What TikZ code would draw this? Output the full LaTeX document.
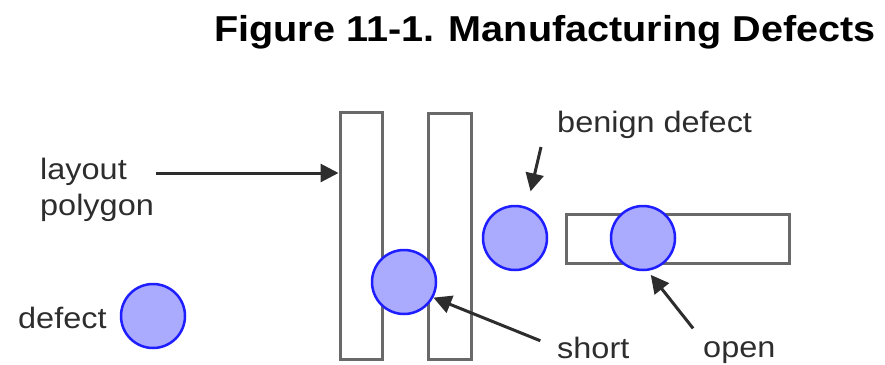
\documentclass[tikz,border=0pt]{standalone}
\usepackage{fontspec}
\setmainfont{Liberation Sans}[FakeStretch=1.1]
\usetikzlibrary{arrows.meta}
\definecolor{defectfill}{RGB}{170,170,255}
\definecolor{defectline}{RGB}{30,30,255}
\definecolor{polyline}{RGB}{105,105,105}
\definecolor{labeltext}{RGB}{45,45,45}
\tikzset{
	heading/.style={font=\fontsize{36}{40}\selectfont\bfseries, inner sep=0pt},
	lbl/.style={font=\fontsize{29.5}{36}\selectfont, text=labeltext, inner sep=0pt},
	polygon/.style={draw=polyline, line width=3pt, inner sep=0pt},
	defect/.style={circle, draw=defectline, fill=defectfill, line width=2.5pt, minimum size=64pt, inner sep=0pt},
	pointer/.style={draw=labeltext, line width=3pt, -{Triangle[length=18pt,width=18pt]}},
}

\begin{document}
\begin{tikzpicture}[x=1pt, y=-1pt]
			%%%%% START %%%%%
			\useasboundingbox (0,0) rectangle (885,364);
			
			\node[heading, anchor=base west] (title) at (214,41) {Figure 11-1. Manufacturing Defects};
			
			% layout polygons
			\node[polygon, minimum width=42pt, minimum height=247pt] (polyA) at (361,235.5) {};
			\node[polygon, minimum width=43pt, minimum height=246pt] (polyB) at (449.5,236) {};
			\node[polygon, minimum width=223pt, minimum height=49pt] (polyC) at (677.5,238.5) {};
			
			% defects
			\node[defect] (loose) at (153,316) {};
			\node[defect] (short) at (404,282) {};
			\node[defect] (benign) at (515,238) {};
			\node[defect] (open) at (643,238) {};
			
			% labels (base of a two-line node sits on its last line)
			\node[lbl, anchor=base west, align=left] (polylbl) at (40,215) {layout\\polygon};
			\node[lbl, anchor=base west] (looselbl) at (18,328) {defect};
			\node[lbl, anchor=base west] (benignlbl) at (557,132) {benign defect};
			\node[lbl, anchor=base west] (shortlbl) at (557,358) {short};
			\node[lbl, anchor=base west] (openlbl) at (703,357) {open};
			
			% pointers
			\coordinate (polytail) at (156,173);
			\draw[pointer] (polytail) -- (polytail -| polyA.west);
			\coordinate (benigntail) at (541,147);
			\draw[pointer, shorten >=16pt] (benigntail) -- (benign.69);
			\draw[pointer, shorten <=18pt] (shortlbl.west) -- (short.-28);
			\draw[pointer, shorten <=16pt, shorten >=5pt] (openlbl.north west) -- (open.-82);
			
			%%%%% END %%%%%
\end{tikzpicture}
\end{document}
